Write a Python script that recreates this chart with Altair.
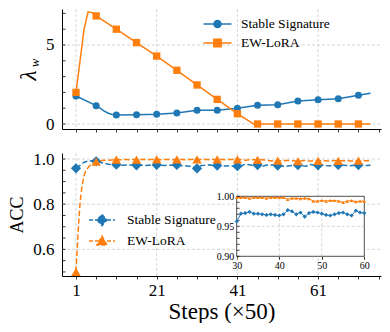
import altair as alt
import pandas as pd

FONT = "Liberation Serif"
BLUE = "#1f77b4"
ORANGE = "#ff7f0e"
SERIES = ["Stable Signature", "EW-LoRA"]

# ---- lambda_w panel (step index 0 == step label 1) ----
lam_ss_steps = [0, 5, 6, 7, 8, 9, 10, 15, 20, 25, 30, 35, 40, 45, 50, 55, 60, 65, 70, 73]
lam_ss_vals = [1.77, 1.16, 1.0, 0.82, 0.68, 0.6, 0.57, 0.59, 0.61, 0.70, 0.87, 0.87, 0.99,
               1.18, 1.22, 1.46, 1.54, 1.60, 1.82, 1.94]
lam_ew_steps = [0, 1, 2, 3, 4, 5, 10, 15, 20, 25, 30, 35, 40, 44, 45, 50, 55, 60, 65, 70, 73]
lam_ew_vals = [2.0, 4.0, 6.0, 7.1, 7.05, 6.84, 6.0, 5.15, 4.3, 3.4, 2.47, 1.56, 0.65, 0.0,
               0.0, 0.0, 0.0, 0.0, 0.0, 0.0, 0.0]

# ---- ACC panel, one value per step index 0..73 ----
acc_steps = list(range(74))
acc_ss = [0.959, 0.972, 0.986, 0.991, 0.992, 0.990, 0.986, 0.981, 0.977, 0.975,
          0.975, 0.973, 0.972, 0.974, 0.973, 0.972, 0.973, 0.971, 0.972, 0.973,
          0.974, 0.972, 0.971, 0.973, 0.972, 0.974, 0.971, 0.970, 0.968, 0.965,
          0.958, 0.971, 0.972, 0.974, 0.971, 0.971, 0.970, 0.969, 0.970, 0.969,
          0.968, 0.970, 0.977, 0.975, 0.970, 0.973, 0.966, 0.972, 0.974, 0.973,
          0.971, 0.969, 0.968, 0.970, 0.972, 0.973, 0.970, 0.968, 0.976, 0.973,
          0.972, 0.973, 0.971, 0.970, 0.972, 0.974, 0.973, 0.971, 0.970, 0.972,
          0.973, 0.972, 0.971, 0.972]
acc_ew = [0.50, 0.80, 0.925, 0.962, 0.979, 0.988, 0.992, 0.994, 0.995, 0.996,
          0.997, 0.997, 0.998, 0.997, 0.998, 0.997, 0.998, 0.998, 0.997, 0.998,
          0.998, 0.997, 0.998, 0.998, 0.997, 0.998, 0.998, 0.997, 0.998, 0.998,
          0.998, 0.998, 0.998, 0.997, 0.998, 0.998, 0.998, 0.997, 0.998, 0.998,
          0.998, 0.998, 0.995, 0.997, 0.997, 0.996, 0.997, 0.996, 0.992, 0.992,
          0.993, 0.992, 0.993, 0.993, 0.992, 0.990, 0.992, 0.993, 0.991, 0.992,
          0.992, 0.993, 0.992, 0.991, 0.993, 0.992, 0.992, 0.993, 0.991, 0.992,
          0.993, 0.992, 0.992, 0.992]

# ticks / grid
x_ticks = list(range(0, 80, 5))
grid_x = [0, 20, 40, 60]
top_grid_y = [0, 5]
top_minor_y = [0, 1, 2, 3, 4, 5, 6, 7]
bot_grid_y = [0.6, 0.8, 1.0]
bot_minor_y = [0.50, 0.55, 0.60, 0.65, 0.70, 0.75, 0.80, 0.85, 0.90, 0.95, 1.00]
inset_x = [30, 60]
inset_y = [0.90, 1.00]
inset_grid_x = [40, 50]
inset_grid_y = [0.95]
inset_minor_y = [0.90, 0.91, 0.92, 0.93, 0.94, 0.95, 0.96, 0.97, 0.98, 0.99, 1.00]

W = 319
H_TOP, H = 120, 123
GRID = dict(color="#c4c4c4", strokeDash=[3, 2], strokeWidth=0.7)

lam_ss = pd.DataFrame({"step": lam_ss_steps, "v": lam_ss_vals})
lam_ew = pd.DataFrame({"step": lam_ew_steps, "v": lam_ew_vals})
acc = pd.DataFrame({"step": acc_steps, "ss": acc_ss, "ew": acc_ew})

xs = alt.Scale(domain=[-3.47, 75.6], nice=False, zero=False)
ys_top = alt.Scale(domain=[-0.316, 7.278], nice=False, zero=False)
ys_bot = alt.Scale(domain=[0.482, 1.0266], nice=False, zero=False)

x_axis_top = alt.Axis(values=x_ticks, labels=False, ticks=True, tickSize=3, tickColor="black",
                      tickWidth=0.8, domainColor="black", domainWidth=1, grid=False, title=None)
x_axis_bot = alt.Axis(values=x_ticks, tickSize=3, tickColor="black", tickWidth=0.8,
                      domainColor="black", domainWidth=1, grid=False,
                      labelExpr="datum.value % 20 == 0 ? '' + (datum.value + 1) : ''",
                      labelOverlap=False, labelFlush=False, labelFontSize=17, labelPadding=3,
                      title="Steps (×50)", titleFontSize=23, titlePadding=2)
y_axis_top = alt.Axis(values=top_grid_y, ticks=False, labelPadding=8, labelFontSize=17,
                      domainColor="black", domainWidth=1, grid=False, title="λ",
                      titleFontStyle="italic", titleFontSize=23, titleX=-27, titleY=66,
                      titleBaseline="alphabetic", titleAlign="center")
y_axis_bot = alt.Axis(values=bot_grid_y, format=".1f", ticks=False, labelPadding=8,
                      labelFontSize=17, domainColor="black", domainWidth=1, grid=False,
                      title="ACC", titleFontSize=18, titlePadding=6)


def vgrid(vals, xscale, xaxis, h):
    return alt.Chart(pd.DataFrame({"v": vals})).mark_rule(**GRID).encode(
        x=alt.X("v:Q", scale=xscale, axis=xaxis), y=alt.value(0), y2=alt.value(h))


def hgrid(vals, yscale, yaxis):
    return alt.Chart(pd.DataFrame({"v": vals})).mark_rule(**GRID).encode(
        y=alt.Y("v:Q", scale=yscale, axis=yaxis), x=alt.value(0), x2=alt.value(W))


def yticks(vals, yscale, yaxis):
    return alt.Chart(pd.DataFrame({"v": vals})).mark_rule(color="black", strokeWidth=0.8).encode(
        y=alt.Y("v:Q", scale=yscale, axis=yaxis), x=alt.value(0), x2=alt.value(3.5))


def legend_layer(shapes, legend):
    sc = alt.Scale(domain=SERIES, range=[BLUE, ORANGE])
    return alt.Chart(pd.DataFrame({"series": SERIES})).transform_filter("false").mark_point(
        filled=True, opacity=1, strokeWidth=1.5).encode(
        fill=alt.Fill("series:N", scale=sc, legend=legend),
        stroke=alt.Stroke("series:N", scale=sc, legend=legend),
        shape=alt.Shape("series:N", scale=alt.Scale(domain=SERIES, range=shapes), legend=legend),
    )


# ---------------- top panel ----------------
def top_series(df, color, shape, size):
    enc = dict(x=alt.X("step:Q", scale=xs, axis=x_axis_top),
               y=alt.Y("v:Q", scale=ys_top, axis=y_axis_top))
    line = alt.Chart(df).mark_line(color=color, strokeWidth=1.5).encode(**enc)
    pts = alt.Chart(df).transform_filter("datum.step % 5 == 0").mark_point(
        filled=True, color=color, shape=shape, size=size, opacity=1).encode(**enc)
    return [line, pts]


legend_top = alt.Legend(orient="none", legendX=147.5, legendY=7, title=None, symbolSize=196,
                        symbolStrokeWidth=1.5, labelFont=FONT, labelFontSize=13.5,
                        labelOffset=15.5, rowPadding=4, padding=0, labelColor="black")
top_shapes = ["M-2,0H2M0.5,0A0.5,0.5,0,1,1,-0.5,0A0.5,0.5,0,1,1,0.5,0Z",
              "M-2,0H2M-0.52,-0.52H0.52V0.52H-0.52Z"]

sub_w = alt.Chart(pd.DataFrame({"t": ["w"]})).mark_text(
    font=FONT, fontStyle="italic", fontSize=13, angle=270, align="center",
    baseline="alphabetic", color="black").encode(
    text="t:N", x=alt.value(-23.5), y=alt.value(54))

top = alt.layer(
    vgrid(grid_x, xs, x_axis_top, H_TOP),
    hgrid(top_grid_y, ys_top, y_axis_top),
    yticks(top_minor_y, ys_top, y_axis_top),
    *top_series(lam_ss, BLUE, "circle", 49),
    *top_series(lam_ew, ORANGE, "square", 54),
    legend_layer(top_shapes, legend_top),
    sub_w,
).properties(width=W, height=H_TOP)

# ---------------- bottom panel ----------------
def bot_series(field, color, shape, size, interp):
    enc = dict(x=alt.X("step:Q", scale=xs, axis=x_axis_bot),
               y=alt.Y(f"{field}:Q", scale=ys_bot, axis=y_axis_bot))
    line = alt.Chart(acc).mark_line(color=color, strokeWidth=1.5, strokeDash=[5.5, 2.5],
                                    interpolate=interp).encode(**enc)
    pts = alt.Chart(acc).transform_filter("datum.step % 5 == 0").mark_point(
        filled=True, color=color, shape=shape, size=size, opacity=1).encode(**enc)
    return [line, pts]


legend_bot = alt.Legend(orient="none", legendX=32, legendY=59, title=None, symbolSize=196,
                        symbolStrokeWidth=1.5, symbolDash=[4, 2], labelFont=FONT,
                        labelFontSize=13.5, labelOffset=17, rowPadding=4, padding=0,
                        labelColor="black")
bot_shapes = ["M-1.86,0H1.86M0,-0.79L0.71,0L0,0.79L-0.71,0Z",
              "M-1.86,0H1.86M0,-0.71L0.71,0.57L-0.71,0.57Z"]

main = alt.layer(
    vgrid(grid_x, xs, x_axis_bot, H),
    hgrid(bot_grid_y, ys_bot, y_axis_bot),
    yticks(bot_minor_y, ys_bot, y_axis_bot),
    *bot_series("ss", BLUE, "diamond", 105, "linear"),
    *bot_series("ew", ORANGE, "triangle-up", 90, "monotone"),
    legend_layer(bot_shapes, legend_bot),
)

# inset
IX0, IX1 = 174.7, 302.3
IY0, IY1 = 103.3, 43.3
ixs = alt.Scale(domain=inset_x, range=[IX0, IX1], nice=False, zero=False)
iys = alt.Scale(domain=inset_y, range=[IY0, IY1], nice=False, zero=False)
ix_axis = alt.Axis(orient="bottom", offset=-(H - IY0), values=[30, 40, 50, 60], domain=False,
                   tickSize=3, tickColor="black", tickWidth=0.8, labelFontSize=10,
                   labelPadding=1, grid=False, title=None, labelOverlap=False, labelFlush=False)
iy_axis = alt.Axis(orient="left", offset=-IX0, values=[0.90, 0.95, 1.00], format=".2f",
                   domain=False, ticks=False, labelFontSize=10, labelPadding=3, grid=False,
                   title=None, labelOverlap=False, labelFlush=False)

frame = alt.Chart(pd.DataFrame({"x": [inset_x[0]], "x2": [inset_x[1]],
                                "y": [inset_y[0]], "y2": [inset_y[1]]})).mark_rect(
    fill="white", stroke="#222222", strokeWidth=0.8).encode(
    x=alt.X("x:Q", scale=ixs, axis=ix_axis), x2="x2",
    y=alt.Y("y:Q", scale=iys, axis=iy_axis), y2="y2")

i_vgrid = alt.Chart(pd.DataFrame({"v": inset_grid_x, "y": inset_y[0], "y2": inset_y[1]})).mark_rule(
    **GRID).encode(x=alt.X("v:Q", scale=ixs, axis=ix_axis),
                   y=alt.Y("y:Q", scale=iys, axis=iy_axis), y2="y2")
i_hgrid = alt.Chart(pd.DataFrame({"v": inset_grid_y, "x": inset_x[0], "x2": inset_x[1]})).mark_rule(
    **GRID).encode(y=alt.Y("v:Q", scale=iys, axis=iy_axis),
                   x=alt.X("x:Q", scale=ixs, axis=ix_axis), x2="x2")
i_ticks = alt.Chart(pd.DataFrame({"v": inset_minor_y, "x": inset_x[0],
                                  "x2": inset_x[0] + 0.7})).mark_rule(
    color="black", strokeWidth=0.7).encode(y=alt.Y("v:Q", scale=iys, axis=iy_axis),
                                          x=alt.X("x:Q", scale=ixs, axis=ix_axis), x2="x2")


def inset_series(field, color, shape, size):
    base = alt.Chart(acc).transform_filter("datum.step >= 30 && datum.step <= 60")
    enc = dict(x=alt.X("step:Q", scale=ixs, axis=ix_axis),
               y=alt.Y(f"{field}:Q", scale=iys, axis=iy_axis))
    line = base.mark_line(color=color, strokeWidth=1).encode(**enc)
    pts = base.mark_point(filled=True, color=color, shape=shape, size=size, opacity=1).encode(**enc)
    return [line, pts]


inset = alt.layer(
    frame, i_vgrid, i_hgrid, i_ticks,
    *inset_series("ss", BLUE, "diamond", 18),
    *inset_series("ew", ORANGE, "triangle-up", 14),
)

bottom = alt.layer(main, inset).resolve_scale(x="independent", y="independent").properties(
    width=W, height=H)

chart = alt.vconcat(top, bottom, spacing=17).resolve_scale(
    fill="independent", stroke="independent", shape="independent"
).properties(
    padding={"left": 0, "top": 0, "right": 0, "bottom": 0}
).configure(font=FONT).configure_view(stroke=None).configure_axis(
    labelFont=FONT, titleFont=FONT, labelColor="black", titleColor="black",
    titleFontWeight="normal")

chart.save("out.html", embed_options={"renderer": "svg", "actions": False})
